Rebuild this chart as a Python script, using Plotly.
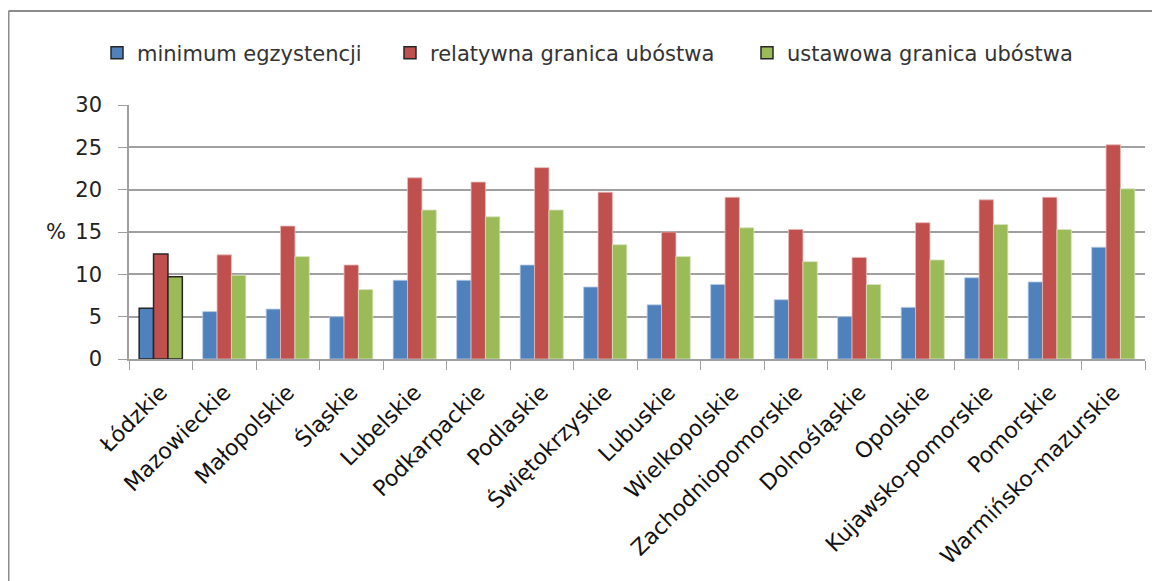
import plotly.graph_objects as go

regions = [
    "Łódzkie", "Mazowieckie", "Małopolskie", "Śląskie", "Lubelskie",
    "Podkarpackie", "Podlaskie", "Świętokrzyskie", "Lubuskie", "Wielkopolskie",
    "Zachodniopomorskie", "Dolnośląskie", "Opolskie", "Kujawsko-pomorskie",
    "Pomorskie", "Warmińsko-mazurskie",
]
minimum_egzystencji = [6.0, 5.6, 5.9, 5.0, 9.3, 9.3, 11.1, 8.5, 6.4, 8.8,
                       7.0, 5.0, 6.1, 9.6, 9.1, 13.2]
relatywna_granica = [12.4, 12.3, 15.7, 11.1, 21.4, 20.9, 22.6, 19.7, 15.0, 19.1,
                     15.3, 12.0, 16.1, 18.8, 19.1, 25.3]
ustawowa_granica = [9.7, 9.9, 12.1, 8.2, 17.6, 16.8, 17.6, 13.5, 12.1, 15.5,
                    11.5, 8.8, 11.7, 15.9, 15.3, 20.1]

series = [
    ("minimum egzystencji", minimum_egzystencji, "#4F81BD", "#B9CDE5"),
    ("relatywna granica ubóstwa", relatywna_granica, "#C0504D", "#E6B9B8"),
    ("ustawowa granica ubóstwa", ustawowa_granica, "#9BBB59", "#D7E4BD"),
]

FONT = "DejaVu Sans"
GRID = "#A0A0A0"

# figure coords (page has an 8px body margin): plot area x 121..1137, y 97..351
L, R, T, B = 121, 1137, 97, 351
W, H = 1152, 573


def px_x(p):
    return (p - L) / (R - L)


def px_y(p):
    return (B - p) / (B - T)


legend_x = [89, 382, 739]
legend_ids = ["legend", "legend2", "legend3"]

fig = go.Figure()
for (name, vals, color, edge), lid in zip(series, legend_ids):
    n = len(vals)
    fig.add_trace(go.Bar(
        x=regions, y=vals, name=name, legend=lid,
        marker=dict(
            color=color,
            line=dict(color=["#262626"] + [edge] * (n - 1),
                      width=[1.5] + [0.8] * (n - 1)),
        ),
    ))

# chart frame (runs off the right and bottom edges like the original)
fig.add_shape(type="line", xref="paper", yref="paper",
              x0=px_x(0.5), y0=px_y(H + 20), x1=px_x(0.5), y1=px_y(3),
              line=dict(color="#8C8C8C", width=2))
fig.add_shape(type="line", xref="paper", yref="paper",
              x0=px_x(0.5), y0=px_y(3), x1=px_x(W + 20), y1=px_y(3),
              line=dict(color="#8C8C8C", width=2))

fig.add_annotation(text="%", xref="paper", yref="paper",
                   x=px_x(47.5), xanchor="center", y=0.5, showarrow=False,
                   font=dict(family=FONT, size=21, color="#222"))

legends = {}
for lid, lx in zip(legend_ids, legend_x):
    legends[lid] = dict(orientation="h", x=px_x(lx), xanchor="left",
                        y=px_y(45), yanchor="middle",
                        font=dict(family=FONT, size=21, color="#333"),
                        itemwidth=30, bgcolor="rgba(0,0,0,0)")

fig.update_layout(
    width=W, height=H,
    margin=dict(l=L, r=W - R, t=T, b=H - B),
    paper_bgcolor="white", plot_bgcolor="white",
    font=dict(family=FONT, size=18, color="#222"),
    barmode="group", bargap=0.32, bargroupgap=0,
    showlegend=True,
    **legends,
)
fig.update_xaxes(
    type="category", tickson="boundaries", ticks="outside", ticklen=9,
    tickcolor=GRID, tickangle=-45, showgrid=False, showline=True,
    linecolor=GRID, linewidth=1.5, ticklabelstandoff=10,
    tickfont=dict(family=FONT, size=22, color="#111"),
)
fig.update_yaxes(
    range=[0, 30], dtick=5, ticks="outside", ticklen=9, tickcolor=GRID,
    showgrid=True, gridcolor=GRID, gridwidth=1.5, zeroline=False,
    showline=True, linecolor=GRID, linewidth=1.5, ticklabelstandoff=12,
    tickfont=dict(family=FONT, size=21, color="#222"),
)

fig.write_html("out.html")
